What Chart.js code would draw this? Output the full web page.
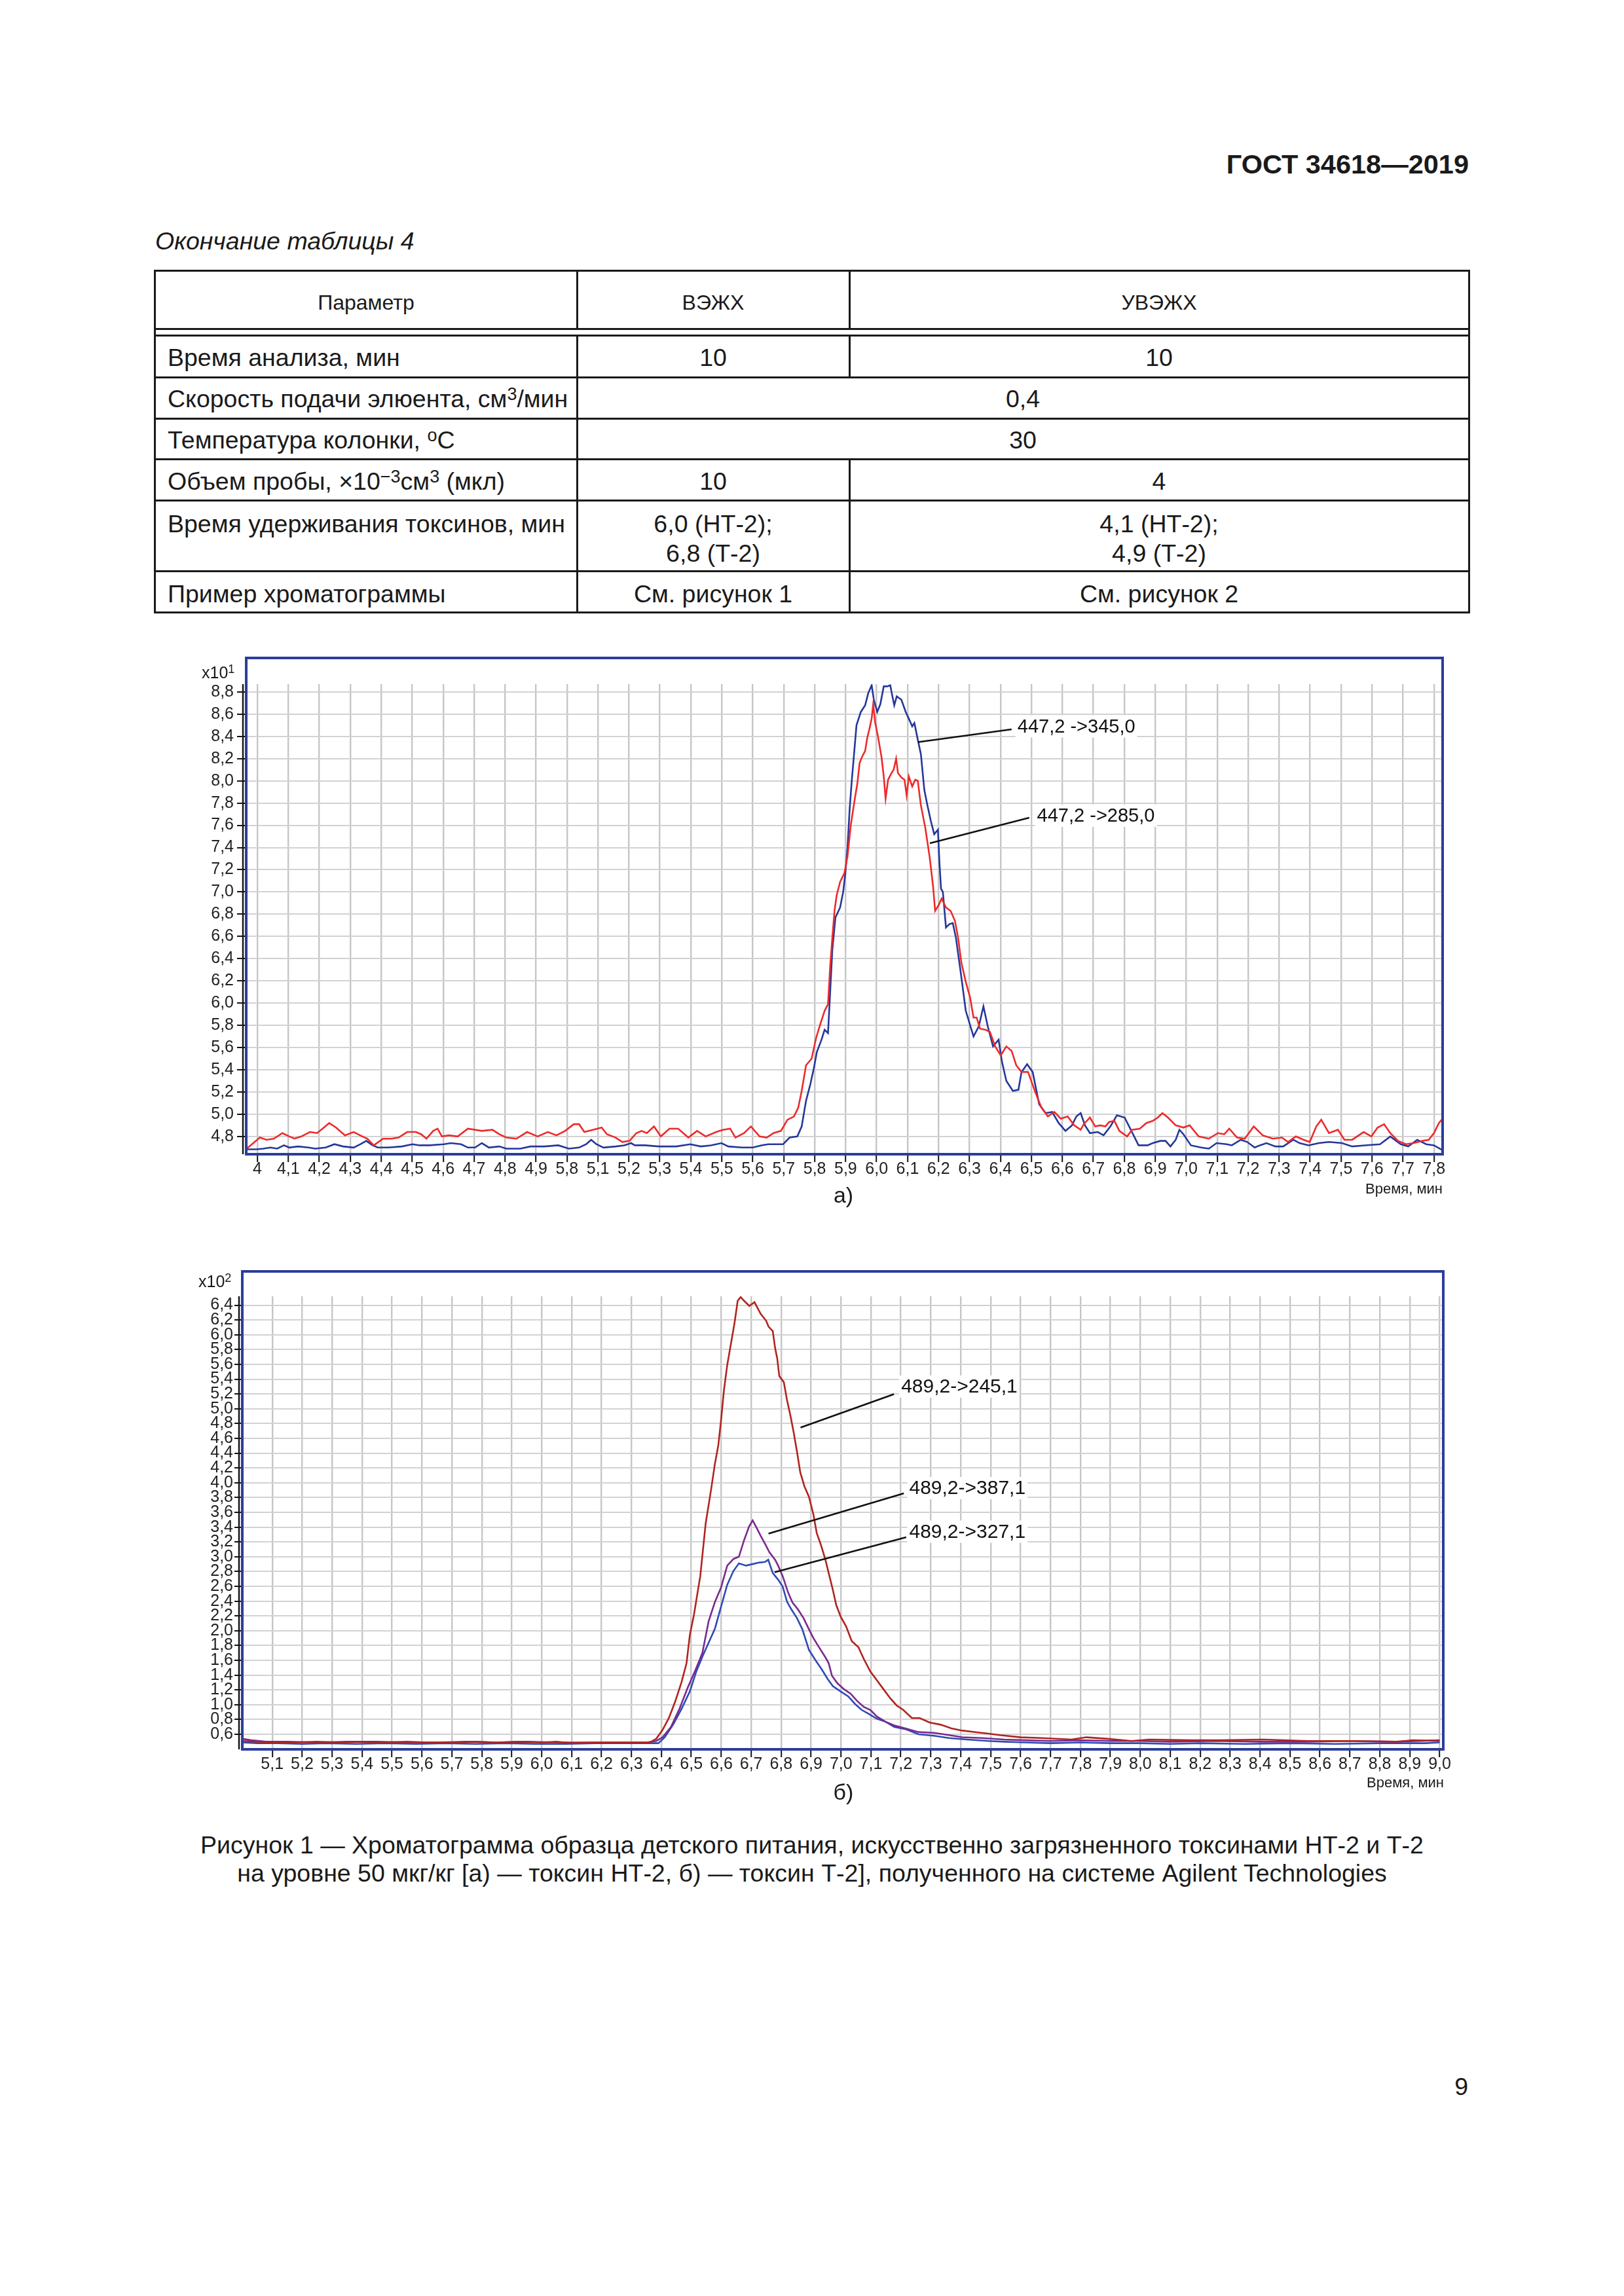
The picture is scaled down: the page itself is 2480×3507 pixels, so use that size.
<!DOCTYPE html>
<html lang="ru">
<head>
<meta charset="utf-8">
<title>ГОСТ 34618—2019, рисунок 1</title>
<script src="https://cdn.jsdelivr.net/npm/chart.js@4.4.1/dist/chart.umd.min.js"></script>
<style>
  html, body { margin: 0; padding: 0; background: #fff; overflow: hidden; }
  #page { position: relative; width: 2480px; height: 3507px; font-family: "Liberation Sans", Arial, sans-serif; color: #1a1a1a; }
  .t { position: absolute; white-space: nowrap; line-height: 1; }
  .b { font-size: 37.5px; }
  .c { transform: translateX(-50%); }
  .up { position: relative; top: -0.42em; font-size: 0.72em; }
  .hl { position: absolute; height: 3px; background: #1a1a1a; }
  .vl { position: absolute; width: 3px; background: #1a1a1a; }
  canvas { position: absolute; }
</style>
</head>
<body>
<div id="page">
  <div class="t" style="right:237px;top:230px;font-size:41.5px;font-weight:bold">ГОСТ 34618—2019</div>
  <div class="t b" style="left:237px;top:350px;font-style:italic">Окончание таблицы 4</div>

  <!-- таблица -->
  <div class="hl" style="left:235px;width:2010px;top:412px"></div>
  <div class="hl" style="left:235px;width:2010px;top:501px"></div>
  <div class="hl" style="left:235px;width:2010px;top:511px"></div>
  <div class="hl" style="left:235px;width:2010px;top:575px"></div>
  <div class="hl" style="left:235px;width:2010px;top:638px"></div>
  <div class="hl" style="left:235px;width:2010px;top:700px"></div>
  <div class="hl" style="left:235px;width:2010px;top:763px"></div>
  <div class="hl" style="left:235px;width:2010px;top:871px"></div>
  <div class="hl" style="left:235px;width:2010px;top:934px"></div>
  <div class="vl" style="left:235px;top:412px;height:525px"></div>
  <div class="vl" style="left:2242px;top:412px;height:525px"></div>
  <div class="vl" style="left:880px;top:412px;height:92px"></div>
  <div class="vl" style="left:880px;top:511px;height:426px"></div>
  <div class="vl" style="left:1296px;top:412px;height:92px"></div>
  <div class="vl" style="left:1296px;top:511px;height:67px"></div>
  <div class="vl" style="left:1296px;top:700px;height:237px"></div>

  <div class="t c" style="left:559px;top:446px;font-size:32px">Параметр</div>
  <div class="t c" style="left:1089px;top:446px;font-size:32px">ВЭЖХ</div>
  <div class="t c" style="left:1770px;top:446px;font-size:32px">УВЭЖХ</div>

  <div class="t b" style="left:256px;top:528px">Время анализа, мин</div>
  <div class="t b c" style="left:1089px;top:528px">10</div>
  <div class="t b c" style="left:1770px;top:528px">10</div>

  <div class="t b" style="left:256px;top:591px">Скорость подачи элюента, см<span class="up">3</span>/мин</div>
  <div class="t b c" style="left:1562px;top:591px">0,4</div>

  <div class="t b" style="left:256px;top:654px">Температура колонки, <span class="up">о</span>С</div>
  <div class="t b c" style="left:1562px;top:654px">30</div>

  <div class="t b" style="left:256px;top:717px">Объем пробы, ×10<span class="up">−3</span>см<span class="up">3</span> (мкл)</div>
  <div class="t b c" style="left:1089px;top:717px">10</div>
  <div class="t b c" style="left:1770px;top:717px">4</div>

  <div class="t b" style="left:256px;top:782px">Время удерживания токсинов, мин</div>
  <div class="t b c" style="left:1089px;top:782px">6,0 (НТ-2);</div>
  <div class="t b c" style="left:1089px;top:827px">6,8 (Т-2)</div>
  <div class="t b c" style="left:1770px;top:782px">4,1 (НТ-2);</div>
  <div class="t b c" style="left:1770px;top:827px">4,9 (Т-2)</div>

  <div class="t b" style="left:256px;top:889px">Пример хроматограммы</div>
  <div class="t b c" style="left:1089px;top:889px">См. рисунок 1</div>
  <div class="t b c" style="left:1770px;top:889px">См. рисунок 2</div>

  <!-- рисунки -->
  <canvas id="chartA" width="1980" height="880" style="left:260px;top:990px"></canvas>
  <canvas id="chartB" width="1990" height="820" style="left:250px;top:1930px"></canvas>

  <div class="t" style="left:308px;top:1015px;font-size:25px">x10<span class="up">1</span></div>
  <div class="t c" style="left:1288px;top:1808px;font-size:34px">а)</div>
  <div class="t" style="right:277px;top:1805px;font-size:22px">Время, мин</div>

  <div class="t" style="left:303px;top:1945px;font-size:25px">x10<span class="up">2</span></div>
  <div class="t c" style="left:1288px;top:2720px;font-size:34px">б)</div>
  <div class="t" style="right:275px;top:2712px;font-size:22px">Время, мин</div>

  <div class="t b c" style="left:1240px;top:2800px">Рисунок 1 — Хроматограмма образца детского питания, искусственно загрязненного токсинами НТ-2 и Т-2</div>
  <div class="t b c" style="left:1240px;top:2843px">на уровне 50 мкг/кг [а) — токсин НТ-2, б) — токсин Т-2], полученного на системе Agilent Technologies</div>

  <div class="t b" style="right:238px;top:3169px">9</div>
</div>

<script>
/* ===== а) токсин НТ-2 ===== */
const timeRedA = [3.963,4.008,4.030,4.053,4.081,4.103,4.120,4.142,4.170,4.193,
  4.215,4.232,4.254,4.283,4.311,4.339,4.355,4.376,4.406,4.434,
  4.456,4.484,4.512,4.529,4.546,4.568,4.582,4.596,4.619,4.647,
  4.680,4.725,4.759,4.781,4.804,4.837,4.871,4.905,4.938,4.966,
  4.994,5.022,5.039,5.056,5.084,5.112,5.129,5.157,5.179,5.202,
  5.224,5.241,5.258,5.281,5.303,5.331,5.359,5.392,5.420,5.448,
  5.482,5.504,5.527,5.544,5.572,5.594,5.622,5.645,5.667,5.691,
  5.712,5.733,5.747,5.758,5.772,5.790,5.804,5.818,5.832,5.843,
  5.850,5.857,5.864,5.871,5.882,5.896,5.906,5.917,5.928,5.938,
  5.945,5.952,5.963,5.970,5.977,5.984,5.989,5.995,6.005,6.016,
  6.023,6.029,6.037,6.048,6.055,6.063,6.069,6.080,6.090,6.097,
  6.104,6.115,6.125,6.133,6.143,6.157,6.171,6.182,6.189,6.200,
  6.210,6.224,6.239,6.253,6.263,6.274,6.288,6.302,6.313,6.323,
  6.334,6.352,6.366,6.383,6.401,6.419,6.436,6.451,6.468,6.489,
  6.511,6.532,6.553,6.574,6.595,6.617,6.638,6.659,6.669,6.689,
  6.706,6.722,6.739,6.751,6.768,6.784,6.809,6.825,6.850,6.871,
  6.892,6.908,6.923,6.941,6.966,6.991,7.011,7.040,7.073,7.102,
  7.123,7.139,7.164,7.189,7.218,7.247,7.280,7.309,7.329,7.354,
  7.379,7.399,7.420,7.436,7.461,7.490,7.511,7.536,7.573,7.598,
  7.618,7.639,7.659,7.684,7.709,7.734,7.763,7.783,7.800,7.816,7.825];
const red285 = [4.684,4.79,4.77,4.78,4.83,4.80,4.78,4.80,4.84,4.83,
  4.88,4.92,4.88,4.81,4.84,4.80,4.78,4.72,4.78,4.78,
  4.79,4.84,4.84,4.82,4.78,4.85,4.87,4.80,4.81,4.80,
  4.87,4.85,4.86,4.82,4.79,4.78,4.84,4.80,4.84,4.81,
  4.85,4.91,4.91,4.84,4.86,4.88,4.82,4.79,4.75,4.76,
  4.83,4.85,4.83,4.89,4.80,4.87,4.87,4.79,4.85,4.80,
  4.84,4.86,4.87,4.79,4.83,4.89,4.80,4.79,4.83,4.85,
  4.95,4.98,5.06,5.21,5.44,5.50,5.68,5.81,5.93,5.99,
  6.33,6.59,6.83,6.97,7.09,7.17,7.32,7.61,7.81,7.98,
  8.16,8.21,8.27,8.39,8.47,8.56,8.69,8.53,8.39,8.21,
  8.04,7.84,8.01,8.07,8.10,8.20,8.07,8.03,8.01,7.87,
  8.04,7.95,8.01,8.00,7.78,7.58,7.32,7.06,6.83,6.88,
  6.94,6.86,6.83,6.74,6.59,6.36,6.19,6.05,5.87,5.87,
  5.77,5.76,5.74,5.61,5.53,5.61,5.57,5.44,5.38,5.38,
  5.21,5.06,4.98,5.02,4.96,4.98,4.90,4.86,4.91,4.97,
  4.89,4.90,4.89,4.93,4.94,4.85,4.80,4.86,4.87,4.92,
  4.94,4.97,5.01,4.97,4.90,4.88,4.90,4.80,4.78,4.83,
  4.82,4.87,4.79,4.78,4.89,4.81,4.78,4.79,4.75,4.80,
  4.77,4.75,4.89,4.95,4.83,4.86,4.77,4.77,4.84,4.80,
  4.88,4.91,4.83,4.76,4.73,4.74,4.76,4.77,4.83,4.92,4.95];

const timeBlueA = [3.963,3.997,4.019,4.042,4.064,4.086,4.103,4.131,4.165,4.187,
  4.221,4.249,4.277,4.311,4.333,4.352,4.372,4.389,4.423,4.467,
  4.501,4.524,4.557,4.602,4.625,4.658,4.680,4.703,4.725,4.748,
  4.781,4.804,4.849,4.882,4.927,4.972,5.006,5.039,5.062,5.078,
  5.095,5.118,5.157,5.185,5.207,5.219,5.252,5.297,5.353,5.398,
  5.432,5.465,5.499,5.521,5.566,5.600,5.628,5.650,5.670,5.698,
  5.719,5.744,5.758,5.772,5.786,5.797,5.807,5.822,5.832,5.843,
  5.850,5.857,5.867,5.882,5.892,5.899,5.906,5.913,5.920,5.928,
  5.935,5.949,5.963,5.973,5.984,5.991,6.002,6.012,6.023,6.034,
  6.044,6.051,6.057,6.065,6.080,6.094,6.104,6.115,6.122,6.133,
  6.143,6.154,6.164,6.175,6.186,6.198,6.203,6.208,6.214,6.224,
  6.235,6.246,6.256,6.270,6.288,6.313,6.330,6.345,6.359,6.376,
  6.394,6.405,6.419,6.440,6.458,6.468,6.486,6.504,6.525,6.546,
  6.567,6.588,6.610,6.631,6.645,6.659,6.673,6.689,6.714,6.733,
  6.755,6.776,6.801,6.821,6.846,6.875,6.892,6.916,6.933,6.949,
  6.966,6.978,6.991,7.015,7.048,7.073,7.098,7.131,7.147,7.176,
  7.197,7.221,7.238,7.259,7.288,7.313,7.346,7.366,7.395,7.428,
  7.461,7.503,7.536,7.577,7.626,7.659,7.693,7.717,7.746,7.775,
  7.800,7.825];
const blue345 = [4.684,4.684,4.69,4.70,4.69,4.72,4.70,4.71,4.70,4.69,
  4.70,4.73,4.71,4.70,4.73,4.76,4.72,4.70,4.70,4.71,
  4.73,4.72,4.72,4.73,4.74,4.73,4.70,4.70,4.74,4.70,
  4.71,4.69,4.69,4.71,4.71,4.72,4.69,4.70,4.73,4.77,
  4.73,4.70,4.71,4.72,4.74,4.72,4.72,4.71,4.71,4.73,
  4.71,4.72,4.74,4.71,4.70,4.70,4.72,4.73,4.73,4.73,
  4.79,4.80,4.89,5.12,5.27,5.41,5.56,5.67,5.76,5.73,
  6.10,6.48,6.77,6.86,7.00,7.17,7.40,7.75,8.01,8.27,
  8.50,8.62,8.68,8.79,8.86,8.73,8.62,8.69,8.85,8.85,
  8.86,8.76,8.68,8.76,8.73,8.62,8.56,8.49,8.52,8.37,
  8.24,7.92,7.78,7.64,7.52,7.56,7.26,7.03,7.00,6.68,
  6.71,6.72,6.59,6.31,5.93,5.70,5.79,5.97,5.79,5.61,
  5.67,5.47,5.30,5.21,5.22,5.38,5.45,5.38,5.09,5.01,
  5.02,4.92,4.85,4.90,4.98,5.01,4.90,4.83,4.84,4.81,
  4.89,4.99,4.97,4.86,4.72,4.72,4.74,4.76,4.76,4.71,
  4.77,4.86,4.82,4.72,4.70,4.69,4.74,4.73,4.72,4.77,
  4.75,4.70,4.72,4.74,4.71,4.71,4.77,4.74,4.72,4.74,
  4.75,4.74,4.71,4.72,4.73,4.80,4.73,4.71,4.77,4.73,
  4.72,4.68];

const xLabelsA = ['4','4,1','4,2','4,3','4,4','4,5','4,6','4,7','4,8','4,9',
  '5,8','5,1','5,2','5,3','5,4','5,5','5,6','5,7','5,8','5,9',
  '6,0','6,1','6,2','6,3','6,4','6,5','6,6','6,7','6,8','6,9',
  '7,0','7,1','7,2','7,3','7,4','7,5','7,6','7,7','7,8'];
const yLabelsA = ['4,8','5,0','5,2','5,4','5,6','5,8','6,0','6,2','6,4','6,6',
  '6,8','7,0','7,2','7,4','7,6','7,8','8,0','8,2','8,4','8,6','8,8'];

/* ===== б) токсин Т-2 ===== */
const time245 = [5.00,5.05,5.10,5.17,5.25,5.32,5.40,5.47,5.55,5.62,
  5.70,5.78,5.85,5.92,6.00,6.05,6.10,6.18,6.25,6.32,
  6.362,6.383,6.404,6.425,6.446,6.467,6.484,6.495,6.509,6.530,
  6.548,6.565,6.579,6.590,6.599,6.609,6.620,6.632,6.644,6.655,
  6.665,6.676,6.694,6.711,6.732,6.750,6.758,6.772,6.780,6.787,
  6.794,6.809,6.820,6.831,6.842,6.853,6.864,6.878,6.893,6.908,
  6.919,6.933,6.948,6.962,6.973,6.984,6.999,7.017,7.036,7.058,
  7.076,7.098,7.120,7.142,7.164,7.186,7.208,7.237,7.263,7.296,
  7.333,7.369,7.406,7.449,7.493,7.53,7.60,7.67,7.77,7.82,
  7.89,7.97,8.03,8.17,8.27,8.41,8.56,8.71,8.86,8.91,9.00];
const val245 = [0.51,0.50,0.49,0.49,0.50,0.49,0.50,0.49,0.50,0.49,
  0.49,0.50,0.49,0.50,0.49,0.50,0.48,0.49,0.49,0.49,
  0.49,0.54,0.66,0.82,1.04,1.30,1.56,1.94,2.22,2.74,
  3.45,3.88,4.26,4.50,4.83,5.25,5.59,5.87,6.15,6.46,
  6.51,6.46,6.39,6.44,6.28,6.19,6.11,6.05,5.82,5.68,
  5.44,5.36,5.11,4.91,4.68,4.42,4.14,3.95,3.81,3.57,
  3.32,3.16,2.96,2.73,2.55,2.35,2.19,2.06,1.86,1.78,
  1.62,1.45,1.33,1.21,1.09,0.99,0.93,0.82,0.82,0.76,
  0.73,0.68,0.65,0.63,0.61,0.59,0.56,0.55,0.53,0.56,
  0.54,0.51,0.53,0.52,0.52,0.53,0.51,0.51,0.50,0.52,0.51];

const time387 = [5.00,5.03,5.08,5.15,5.25,5.35,5.45,5.55,5.65,5.75,
  5.85,5.95,6.05,6.15,6.25,6.35,6.383,6.404,6.432,6.460,
  6.488,6.516,6.537,6.558,6.579,6.599,6.620,6.641,6.659,6.676,
  6.693,6.705,6.717,6.732,6.747,6.761,6.780,6.790,6.805,6.823,
  6.838,6.856,6.875,6.893,6.908,6.926,6.948,6.959,6.970,6.988,
  7.010,7.032,7.054,7.076,7.098,7.120,7.149,7.178,7.215,7.259,
  7.310,7.361,7.405,7.471,7.545,7.618,7.70,7.80,7.90,8.00,
  8.10,8.25,8.40,8.55,8.70,8.85,9.00];
const val387 = [0.54,0.52,0.50,0.50,0.49,0.50,0.50,0.49,0.49,0.50,
  0.49,0.50,0.49,0.49,0.49,0.49,0.51,0.56,0.70,0.94,
  1.23,1.49,1.70,2.13,2.39,2.58,2.88,2.97,3.00,3.22,
  3.41,3.49,3.40,3.28,3.17,3.06,2.96,2.88,2.74,2.52,
  2.38,2.29,2.17,2.02,1.90,1.78,1.64,1.56,1.39,1.29,
  1.21,1.15,1.05,0.97,0.93,0.84,0.77,0.72,0.68,0.63,
  0.62,0.59,0.56,0.55,0.53,0.52,0.51,0.52,0.51,0.51,
  0.50,0.51,0.50,0.50,0.51,0.50,0.52];

const time327 = [5.00,5.05,5.12,5.20,5.28,5.38,5.48,5.58,5.68,5.78,
  5.88,5.98,6.08,6.18,6.28,6.37,6.390,6.411,6.439,6.467,
  6.495,6.516,6.537,6.558,6.579,6.599,6.620,6.641,6.659,6.683,
  6.704,6.725,6.746,6.757,6.772,6.790,6.805,6.820,6.834,6.853,
  6.871,6.893,6.915,6.937,6.955,6.973,6.995,7.025,7.047,7.069,
  7.091,7.120,7.149,7.178,7.215,7.259,7.310,7.361,7.420,7.493,
  7.545,7.618,7.70,7.80,7.90,8.00,8.10,8.20,8.35,8.50,
  8.65,8.80,8.95,9.00];
const val327 = [0.49,0.48,0.48,0.47,0.48,0.47,0.48,0.47,0.48,0.47,
  0.48,0.47,0.47,0.48,0.48,0.48,0.48,0.56,0.73,0.94,
  1.18,1.44,1.65,1.84,2.03,2.32,2.62,2.81,2.91,2.88,
  2.90,2.92,2.93,2.96,2.78,2.69,2.60,2.39,2.29,2.17,
  2.02,1.74,1.60,1.47,1.35,1.25,1.19,1.11,1.01,0.93,
  0.88,0.81,0.77,0.70,0.67,0.60,0.58,0.55,0.53,0.51,
  0.50,0.49,0.48,0.49,0.48,0.48,0.47,0.48,0.47,0.48,
  0.47,0.48,0.48,0.49];

const xLabelsB = ['5,1','5,2','5,3','5,4','5,5','5,6','5,7','5,8','5,9','6,0',
  '6,1','6,2','6,3','6,4','6,5','6,6','6,7','6,8','6,9','7,0',
  '7,1','7,2','7,3','7,4','7,5','7,6','7,7','7,8','7,9','8,0',
  '8,1','8,2','8,3','8,4','8,5','8,6','8,7','8,8','8,9','9,0'];
const yLabelsB = ['0,6','0,8','1,0','1,2','1,4','1,6','1,8','2,0','2,2','2,4',
  '2,6','2,8','3,0','3,2','3,4','3,6','3,8','4,0','4,2','4,4',
  '4,6','4,8','5,0','5,2','5,4','5,6','5,8','6,0','6,2','6,4'];

/* подписи переходов (координаты в единицах осей) */
const notesA = [
  { text: '447,2 ->345,0', x0: 6.134, y0: 8.348, x1: 6.436, y1: 8.463, tx: 6.455, ty: 8.49 },
  { text: '447,2 ->285,0', x0: 6.172, y0: 7.438, x1: 6.493, y1: 7.668, tx: 6.518, ty: 7.686 },
];
const notesB = [
  { text: '489,2->245,1', x0: 6.865, y0: 4.746, x1: 7.177, y1: 5.197, tx: 7.201, ty: 5.30 },
  { text: '489,2->387,1', x0: 6.758, y0: 3.312, x1: 7.210, y1: 3.857, tx: 7.228, ty: 3.927 },
  { text: '489,2->327,1', x0: 6.778, y0: 2.790, x1: 7.218, y1: 3.264, tx: 7.228, ty: 3.339 },
];

/* ===== helpers ===== */
Chart.defaults.font.family = "'Liberation Sans', Arial, sans-serif";
Chart.defaults.color = '#222';

function series(ts, vs) {
  return ts.map((t, i) => ({ x: t, y: vs[i] }));
}

function line(label, data, color) {
  return { label, data, borderColor: color, borderWidth: 2.6, pointRadius: 0, tension: 0, fill: false };
}

// рамка прибора, ось Y и выноски
const framePlugin = {
  id: 'frame',
  beforeDatasetsDraw(chart, args, opts) {
    const { ctx, chartArea: a } = chart;
    ctx.save();
    ctx.strokeStyle = '#151515';
    ctx.lineWidth = 2.5;
    ctx.beginPath();
    ctx.moveTo(a.left - 5, a.top);
    ctx.lineTo(a.left - 5, a.bottom);
    ctx.stroke();
    ctx.restore();
  },
  afterDatasetsDraw(chart, args, opts) {
    const { ctx, chartArea: a, scales } = chart;
    ctx.save();
    ctx.strokeStyle = '#2b3d9c';
    ctx.lineWidth = 4;
    ctx.strokeRect(a.left, a.top - opts.above, a.right - a.left, a.bottom - a.top + opts.above);

    ctx.font = opts.noteSize + "px 'Liberation Sans', Arial, sans-serif";
    ctx.textBaseline = 'middle';
    for (const n of opts.notes) {
      const px = scales.x.getPixelForValue(n.tx);
      const py = scales.y.getPixelForValue(n.ty);
      const w = ctx.measureText(n.text).width;
      ctx.fillStyle = '#fff';
      ctx.fillRect(px - 3, py - 17, w + 6, 34);
      ctx.strokeStyle = '#111';
      ctx.lineWidth = 2.5;
      ctx.beginPath();
      ctx.moveTo(scales.x.getPixelForValue(n.x0), scales.y.getPixelForValue(n.y0));
      ctx.lineTo(scales.x.getPixelForValue(n.x1), scales.y.getPixelForValue(n.y1));
      ctx.stroke();
      ctx.fillStyle = '#111';
      ctx.fillText(n.text, px, py + 1);
    }
    ctx.restore();
  }
};

function makeChart(id, o) {
  return new Chart(document.getElementById(id), {
    type: 'line',
    data: { datasets: o.datasets },
    plugins: [framePlugin],
    options: {
      responsive: false,
      animation: false,
      events: [],
      layout: { padding: o.padding },
      plugins: {
        legend: { display: false },
        tooltip: { enabled: false },
        frame: { above: o.above, notes: o.notes, noteSize: o.noteSize },
      },
      scales: {
        x: {
          type: 'linear',
          min: o.xMin, max: o.xMax,
          afterBuildTicks: s => { s.ticks = o.xLabels.map((l, i) => ({ value: o.xStart + i * 0.1 })); },
          afterFit: s => { s.height = 60; },
          border: { display: false },
          grid: { color: '#c6c6c6', lineWidth: 2.4, tickColor: '#111', tickWidth: 2, tickLength: 12 },
          ticks: { autoSkip: false, maxRotation: 0, minRotation: 0, padding: -4, font: { size: 25 },
                   callback: (v, i) => o.xLabels[i] },
        },
        y: {
          min: o.yMin, max: o.yMax,
          afterBuildTicks: s => { s.ticks = o.yLabels.map((l, i) => ({ value: o.yStart + i * 0.2 })); },
          afterFit: s => { s.width = o.yWidth; },
          border: { display: false },
          grid: { color: '#d2d2d2', lineWidth: 2, tickColor: '#111', tickWidth: 2, tickLength: o.yTick },
          ticks: { autoSkip: false, padding: o.yPad, font: { size: 25 },
                   callback: (v, i) => o.yLabels[i] },
        },
      },
    },
  });
}

makeChart('chartA', {
  datasets: [
    line('447,2 -> 285,0', series(timeRedA, red285), '#ee2a2a'),
    line('447,2 -> 345,0', series(timeBlueA, blue345), '#25379a'),
  ],
  padding: { left: 0, right: 37, top: 55, bottom: 47 },
  xMin: 3.964, xMax: 7.828, xStart: 4.0, xLabels: xLabelsA,
  yMin: 4.64, yMax: 8.87, yStart: 4.8, yLabels: yLabelsA,
  yWidth: 116, yTick: 14, yPad: 5,
  above: 40, notes: notesA, noteSize: 29,
});

makeChart('chartB', {
  datasets: [
    line('489,2 -> 245,1', series(time245, val245), '#b0241f'),
    line('489,2 -> 387,1', series(time387, val387), '#7a2a8e'),
    line('489,2 -> 327,1', series(time327, val327), '#2f4bb3'),
  ],
  padding: { left: 0, right: 36, top: 50, bottom: 18 },
  xMin: 5.0, xMax: 9.012, xStart: 5.1, xLabels: xLabelsB,
  yMin: 0.397, yMax: 6.52, yStart: 0.6, yLabels: yLabelsB,
  yWidth: 120, yTick: 12, yPad: 2,
  above: 38, notes: notesB, noteSize: 30,
});
</script>
</body>
</html>
